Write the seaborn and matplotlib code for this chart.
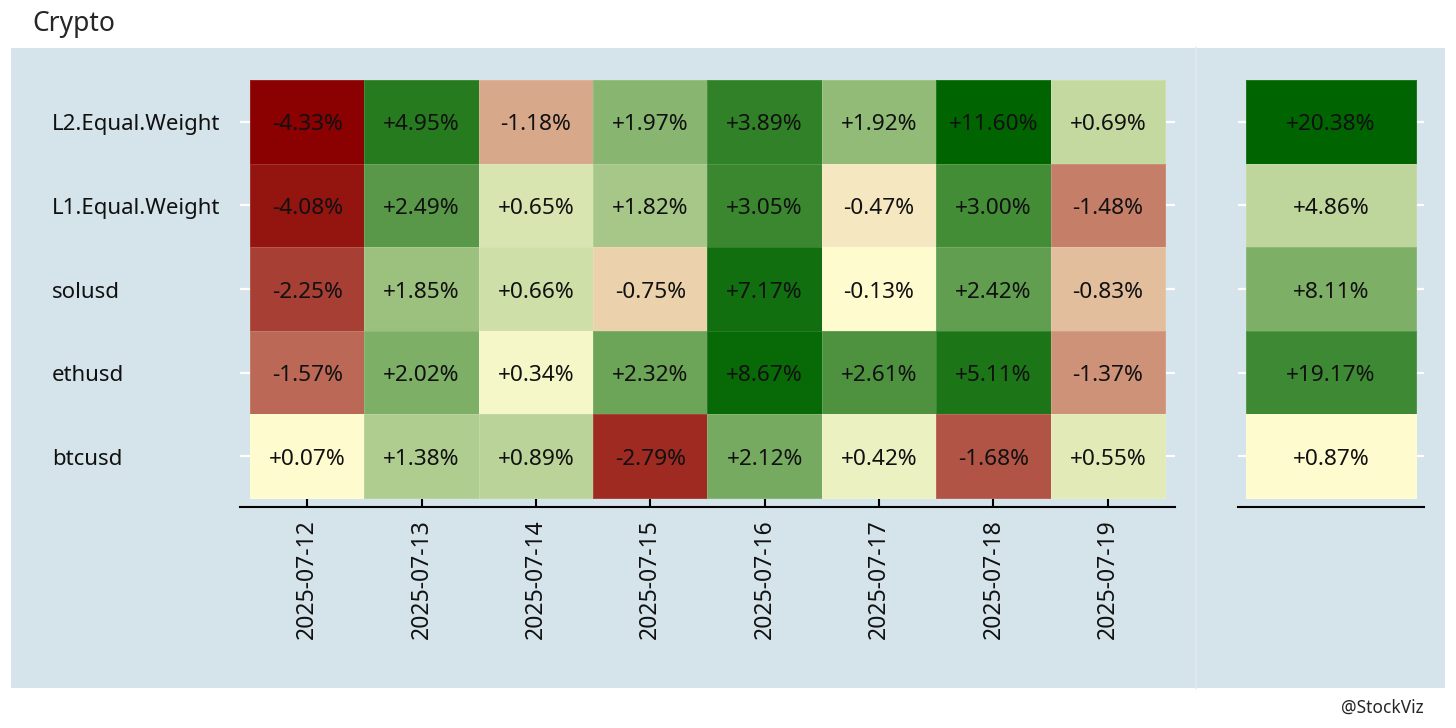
import numpy as np
import pandas as pd
import matplotlib.pyplot as plt
import seaborn as sns
from matplotlib.colors import LinearSegmentedColormap
from matplotlib.patches import Rectangle
from matplotlib.transforms import ScaledTranslation

# Data
rows = ["L2.Equal.Weight", "L1.Equal.Weight", "solusd", "ethusd", "btcusd"]
dates = ["2025-07-12", "2025-07-13", "2025-07-14", "2025-07-15",
         "2025-07-16", "2025-07-17", "2025-07-18", "2025-07-19"]
l2_equal = [-4.33, 4.95, -1.18, 1.97, 3.89, 1.92, 11.60, 0.69]
l1_equal = [-4.08, 2.49, 0.65, 1.82, 3.05, -0.47, 3.00, -1.48]
solusd = [-2.25, 1.85, 0.66, -0.75, 7.17, -0.13, 2.42, -0.83]
ethusd = [-1.57, 2.02, 0.34, 2.32, 8.67, 2.61, 5.11, -1.37]
btcusd = [0.07, 1.38, 0.89, -2.79, 2.12, 0.42, -1.68, 0.55]
totals = [20.38, 4.86, 8.11, 19.17, 0.87]

daily = pd.DataFrame([l2_equal, l1_equal, solusd, ethusd, btcusd], index=rows, columns=dates)
total = pd.DataFrame({"total": totals}, index=rows)


def rank_score(df):
    # colour by rank: negatives ranked among negatives, positives among positives
    v = df.values.astype(float)
    out = np.zeros_like(v)
    neg = v < 0
    pos = ~neg
    if neg.sum() > 1:
        r = pd.Series(v[neg]).rank().values - 1
        out[neg] = -(neg.sum() - 1 - r) / (neg.sum() - 1)
    if pos.sum() > 1:
        r = pd.Series(v[pos]).rank().values - 1
        out[pos] = r / (pos.sum() - 1)
    return pd.DataFrame(out, index=df.index, columns=df.columns)


def fmt(df):
    return df.map(lambda x: f"{x:+.2f}%")


cmap = LinearSegmentedColormap.from_list("rg", ["#8b0000", "#fffcd0", "#006400"])

sns.set_theme(style="white")
plt.rcParams["font.family"] = ["Noto Sans", "DejaVu Sans"]

W, H = 1456, 728
fig = plt.figure(figsize=(W / 100, H / 100), dpi=100)
fig.patch.set_facecolor("white")
fig.patches.append(Rectangle((11 / W, 1 - 688 / H), (1445 - 11) / W, (688 - 48) / H,
                             transform=fig.transFigure, facecolor="#d5e4eb",
                             edgecolor="none", zorder=-10))
fig.lines.append(plt.Line2D([1196 / W, 1196 / W], [1 - 688 / H, 1 - 48 / H],
                            transform=fig.transFigure, color="#dde9ef", lw=1.5, zorder=-9))

ax1 = fig.add_axes([240 / W, 1 - 507 / H, 935 / W, 427 / H])
ax2 = fig.add_axes([1238 / W, 1 - 507 / H, 186 / W, 427 / H])

annot_kws = {"fontsize": 16.3, "color": "#111111"}
sns.heatmap(rank_score(daily), ax=ax1, cmap=cmap, vmin=-1, vmax=1, cbar=False,
            annot=fmt(daily), fmt="", annot_kws=annot_kws,
            xticklabels=dates, yticklabels=rows, linewidths=0.4, linecolor="#ffffff22")
sns.heatmap(rank_score(total), ax=ax2, cmap=cmap, vmin=-1, vmax=1, cbar=False,
            annot=fmt(total), fmt="", annot_kws=annot_kws,
            xticklabels=False, yticklabels=False, linewidths=0.4, linecolor="#ffffff22")

down = ScaledTranslation(0, -3 / 100, fig.dpi_scale_trans)
cell_h = (498 - 80) / 5
for ax, ncols, cell_w, padl in [(ax1, 8, (1164 - 250) / 8, 10), (ax2, 1, 170, 8)]:
    ax.set_facecolor("none")
    ax.set_xlim(-padl / cell_w, ncols + padl / cell_w)
    ax.set_ylim(5 + 9 / cell_h, 0)
    for s in ["top", "left", "right"]:
        ax.spines[s].set_visible(False)
    ax.spines["bottom"].set_visible(True)
    ax.spines["bottom"].set_color("black")
    ax.spines["bottom"].set_linewidth(1.5)
    ax.set_yticks(np.arange(5) + 0.5)
    ax.tick_params(axis="y", direction="in", left=True, right=True, color="white",
                   length=7.2, width=1.6)
    ax.set_xlabel("")
    ax.set_ylabel("")
    for t in ax.texts:
        t.set_transform(t.get_transform() + down)

ax1.set_yticklabels(rows, rotation=0, fontsize=16, ha="left")
ax1.tick_params(axis="y", pad=135.4, labelcolor="#111111")
for lab in ax1.get_yticklabels():
    lab.set_transform(lab.get_transform() + down)
ax1.set_xticklabels(dates, rotation=90, fontsize=16.5)
ax1.tick_params(axis="x", direction="in", bottom=True, color="black", length=6.5,
                width=1.5, pad=9, labelcolor="#111111")
ax2.set_yticklabels([])
ax2.set_xticks([])

fig.text(32 / W, 1 - 31 / H, "Crypto", fontsize=19, ha="left", va="baseline")
fig.text(1424 / W, 1 - 713 / H, "@StockViz", fontsize=12.5, ha="right", va="baseline")

fig.savefig("out.png", dpi=100)
